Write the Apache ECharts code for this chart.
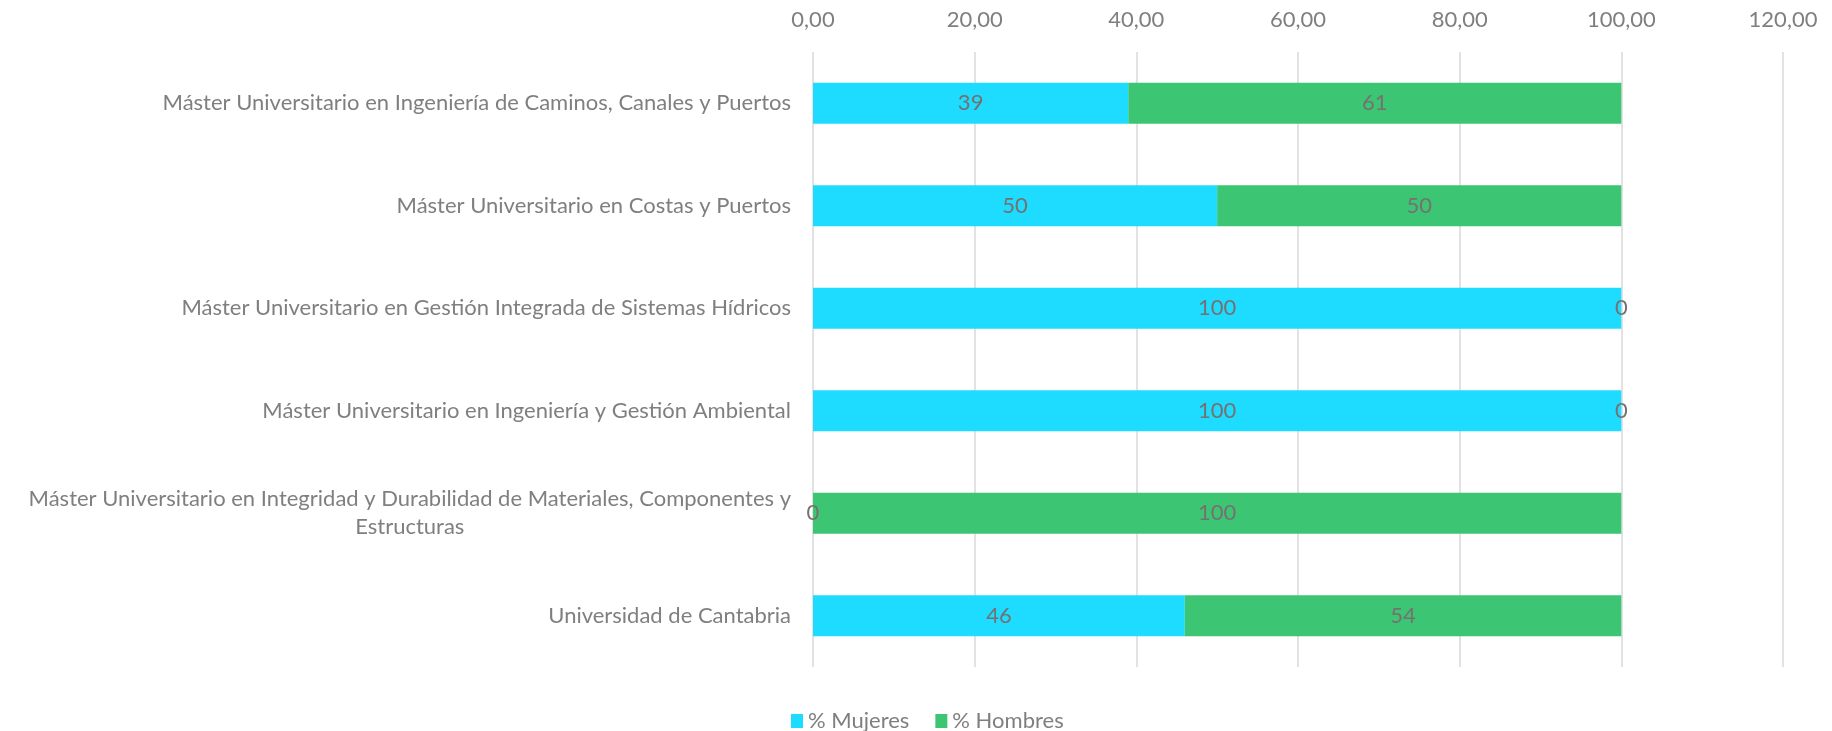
<!DOCTYPE html>
<html><head><meta charset="utf-8">
<script src="https://cdn.jsdelivr.net/npm/echarts@6/dist/echarts.min.js"></script>
<style>html,body{margin:0;padding:0;background:#fff}#c{width:1832px;height:731px}</style>
</head><body><div id="c"></div>
<script>
const categories = [
  "Máster Universitario en Ingeniería de Caminos, Canales y Puertos",
  "Máster Universitario en Costas y Puertos",
  "Máster Universitario en Gestión Integrada de Sistemas Hídricos",
  "Máster Universitario en Ingeniería y Gestión Ambiental",
  "Máster Universitario en Integridad y Durabilidad de Materiales, Componentes y\nEstructuras",
  "Universidad de Cantabria"
];
const mujeres = [39, 50, 100, 100, 0, 46];
const hombres = [61, 50, 0, 0, 100, 54];
const seriesNames = ["% Mujeres", "% Hombres"];
const FONT = "Lato";
const chart = echarts.init(document.getElementById('c'));
chart.setOption({
  animation: false,
  textStyle: {fontFamily: FONT},
  grid: {left: 813, right: 49, top: 52, bottom: 64},
  legend: {
    data: seriesNames, left: 786, top: 705, icon: 'rect', itemWidth: 12, itemHeight: 14, itemGap: 26,
    textStyle: {color: '#7f7f7f', fontSize: 22, fontFamily: FONT}
  },
  xAxis: {
    type: 'value', position: 'top', min: 0, max: 120, interval: 20,
    axisLine: {show: false}, axisTick: {show: false},
    splitLine: {lineStyle: {color: '#d9d9d9', width: 1.5}},
    axisLabel: {color: '#7f7f7f', fontSize: 22, margin: 21, formatter: v => v.toFixed(2).replace('.', ',')}
  },
  yAxis: {
    type: 'category', data: categories, inverse: true,
    axisLine: {show: false}, axisTick: {show: false},
    axisLabel: {
      color: '#7f7f7f', fontSize: 22, margin: 22, align: 'right', lineHeight: 28,
      formatter: v => v.split('\n').map(s => '{c|' + s + '}').join('\n'),
      rich: {c: {align: 'center', color: '#7f7f7f', fontSize: 22, fontFamily: FONT, lineHeight: 28}}
    }
  },
  series: [
    {name: seriesNames[0], type: 'bar', stack: 's', data: mujeres, barWidth: 41,
     itemStyle: {color: '#1ddcff'},
     label: {show: true, position: 'inside', color: '#767171', fontSize: 22, fontFamily: FONT}},
    {name: seriesNames[1], type: 'bar', stack: 's', data: hombres, barWidth: 41,
     itemStyle: {color: '#3cc673'},
     label: {show: true, position: 'inside', color: '#767171', fontSize: 22, fontFamily: FONT}}
  ]
});
</script></body></html>
